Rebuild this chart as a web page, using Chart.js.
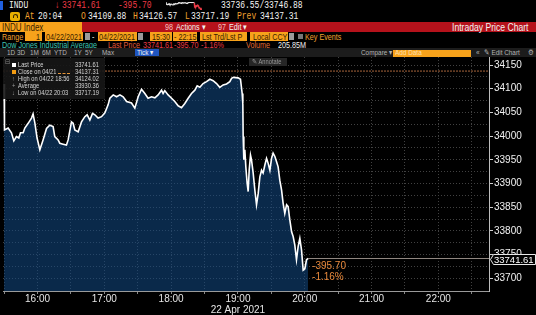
<!DOCTYPE html>
<html>
<head>
<meta charset="utf-8">
<script src="https://cdn.jsdelivr.net/npm/chart.js@4.4.1/dist/chart.umd.min.js"></script>
<style>
  body { margin: 0; background: #000; width: 536px; height: 315px; overflow: hidden; font-family: "Liberation Sans", Arial, sans-serif; }
  .a { position: absolute; white-space: nowrap; line-height: 1; }
  .m { font-family: "Liberation Mono", monospace; font-size: 10px; transform: scaleX(.8); transform-origin: 0 0; }
  .s { font-size: 9px; transform: scaleX(.8); transform-origin: 0 0; }
  .box { position: absolute; background: #f7a21b; }
  .bt { color: #3a1e00; }
  .or { color: #f0a030; }
  .red { color: #ec3a46; }
  .w { color: #f2f2f2; }
  .g { color: #b4b4b4; }
  #wrap { position: absolute; left: 0; top: 57px; width: 536px; height: 258px; }
  #leg { position: absolute; left: 3px; top: 1px; width: 102px; height: 41px; background: rgba(22,22,22,0.9); }
  .l { font-size: 6.5px; color: #d6d6d6; transform: scaleX(.88); transform-origin: 0 0; }
</style>
</head>
<body>
<!-- row 1 -->
<div class="a" style="left:0;top:1px;width:3px;height:9px;background:#2060e0"></div>
<span class="a m w" style="left:9px;top:1px">INDU</span>
<span class="a m red" style="left:55px;top:1px">↓</span>
<span class="a m red" style="left:62px;top:1px">33741.61</span>
<span class="a m red" style="left:118px;top:1px">-395.70</span>
<canvas id="spark" width="38" height="10" style="position:absolute;left:165px;top:1px;width:38px;height:10px"></canvas>
<span class="a m w" style="left:221px;top:1px">33736.55/33746.88</span>
<!-- row 2 -->
<div class="a" style="left:10px;top:12px;width:10px;height:9px;background:#e8b000;border-radius:2px"></div>
<div class="a" style="left:13px;top:14px;width:3px;height:3px;border:1px solid #3a2a00;border-radius:3px 3px 0 0;border-bottom:none"></div>
<span class="a m or" style="left:25px;top:12px">At</span>
<span class="a m w" style="left:38px;top:12px">20:04</span>
<span class="a m or" style="left:81px;top:12px">O</span>
<span class="a m w" style="left:88px;top:12px">34109.88</span>
<span class="a m or" style="left:133px;top:12px">H</span>
<span class="a m w" style="left:139px;top:12px">34126.57</span>
<span class="a m or" style="left:185px;top:12px">L</span>
<span class="a m w" style="left:191px;top:12px">33717.19</span>
<span class="a m or" style="left:237px;top:12px">Prev</span>
<span class="a m w" style="left:260px;top:12px">34137.31</span>
<!-- row 3 -->
<div class="box" style="left:0;top:22px;width:82px;height:10px"></div>
<div class="a" style="left:82px;top:22px;width:454px;height:10px;background:#b5121b"></div>
<span class="a s bt" style="left:2px;top:22.5px;font-size:10px">INDU Index</span>
<span class="a s" style="left:165px;top:23px;color:#f5c0c0">98</span>
<span class="a s w" style="left:176px;top:23px">Actions ▾</span>
<span class="a s" style="left:218px;top:23px;color:#f5c0c0">97</span>
<span class="a s w" style="left:229px;top:23px">Edit ▾</span>
<span class="a w" style="left:452px;top:22.5px;font-size:10px;transform:scaleX(.86);transform-origin:0 0">Intraday Price Chart</span>
<!-- row 4 -->
<span class="a s or" style="left:2px;top:32.5px">Range</span>
<div class="box" style="left:25px;top:32px;width:17px;height:9px"></div><span class="a s bt" style="left:36px;top:32.5px">1</span>
<div class="box" style="left:45px;top:32px;width:38px;height:9px"></div><span class="a s bt" style="left:46px;top:32.5px">04/22/2021</span>
<div class="a" style="left:85px;top:33px;width:5px;height:7px;background:#9a9a9a"></div>
<span class="a s w" style="left:92px;top:32.5px">-</span>
<div class="box" style="left:98px;top:32px;width:39px;height:9px"></div><span class="a s bt" style="left:99px;top:32.5px">04/22/2021</span>
<div class="a" style="left:138px;top:33px;width:5px;height:7px;background:#9a9a9a"></div>
<div class="box" style="left:150px;top:32px;width:22px;height:9px"></div><span class="a s bt" style="left:152px;top:32.5px">15:30</span>
<div class="box" style="left:173px;top:32px;width:24px;height:9px"></div><span class="a s bt" style="left:174px;top:32.5px">- 22:15</span>
<div class="box" style="left:200px;top:32px;width:47px;height:9px"></div><span class="a s bt" style="left:202px;top:32.5px">Lst Trd/Lst P</span>
<div class="box" style="left:250px;top:32px;width:38px;height:9px"></div><span class="a s bt" style="left:253px;top:32.5px">Local CCY</span>
<div class="a" style="left:289px;top:33px;width:5px;height:7px;background:#9a9a9a"></div>
<div class="a" style="left:298px;top:34px;width:5px;height:5px;background:#777"></div>
<span class="a s or" style="left:305px;top:32.5px">Key Events</span>
<!-- row 5 -->
<span class="a s" style="left:2px;top:41px;color:#3fc4b4">Dow Jones Industrial Average</span>
<span class="a s" style="left:108px;top:41px;color:#e2583a">Last Price</span>
<span class="a s red" style="left:143px;top:41px">33741.61</span>
<span class="a s red" style="left:174px;top:41px">-395.70</span>
<span class="a s red" style="left:201px;top:41px">-1.16%</span>
<span class="a s" style="left:246px;top:41px;color:#e2703a">Volume</span>
<span class="a s w" style="left:278px;top:41px">205.85M</span>
<!-- row 6 -->
<div class="a" style="left:0;top:48px;width:536px;height:9px;background:#1c1c1c"></div>
<span class="a s g" style="left:7px;top:49px;font-size:8px">1D</span>
<span class="a s g" style="left:17px;top:49px;font-size:8px">3D</span>
<span class="a s g" style="left:30px;top:49px;font-size:8px">1M</span>
<span class="a s g" style="left:42px;top:49px;font-size:8px">6M</span>
<span class="a s g" style="left:54px;top:49px;font-size:8px">YTD</span>
<span class="a s g" style="left:74px;top:49px;font-size:8px">1Y</span>
<span class="a s g" style="left:85px;top:49px;font-size:8px">5Y</span>
<span class="a s g" style="left:102px;top:49px;font-size:8px">Max</span>
<div class="a" style="left:135px;top:49px;width:24px;height:7px;background:#1f55c0"></div>
<span class="a s w" style="left:137px;top:49px;font-size:8px">Tick ▾</span>
<span class="a s g" style="left:361px;top:49px;font-size:8px">Compare ▾</span>
<div class="box" style="left:393px;top:49.5px;width:78px;height:7px"></div>
<span class="a s" style="left:395px;top:49px;font-size:8px;color:#fde0b0">Add Data</span>
<span class="a s g" style="left:476px;top:49px;font-size:8px">«</span>
<span class="a s g" style="left:484px;top:49px;font-size:8px">✎ Edit Chart</span>
<span class="a s g" style="left:528px;top:48.5px;font-size:8px">⚙</span>

<div id="wrap">
  <canvas id="chart" width="536" height="258"></canvas>
  <div id="leg">
    <span class="a l" style="left:2px;top:1px;color:#888">⊟</span>
    <div class="a" style="left:9px;top:5px;width:4px;height:4px;background:#fff"></div>
    <span class="a l" style="left:15px;top:4px">Last Price</span>
    <span class="a l" style="left:72px;top:4px">33741.61</span>
    <div class="a" style="left:9px;top:12px;width:4px;height:4px;background:#f39c12"></div>
    <span class="a l" style="left:15px;top:11px">Close on 04/21</span>
    <div class="a" style="left:55px;top:14.5px;width:12px;border-top:1px dashed #e8973a"></div>
    <span class="a l" style="left:72px;top:11px">34137.31</span>
    <span class="a l" style="left:9px;top:18px;color:#999">↑</span>
    <span class="a l" style="left:15px;top:18px">High on 04/22 18:56</span>
    <span class="a l" style="left:72px;top:18px">34124.02</span>
    <span class="a l" style="left:9px;top:25px;color:#999">+</span>
    <span class="a l" style="left:15px;top:25px">Average</span>
    <span class="a l" style="left:72px;top:25px">33930.36</span>
    <span class="a l" style="left:9px;top:32px;color:#999">↓</span>
    <span class="a l" style="left:15px;top:32px">Low on 04/22 20:03</span>
    <span class="a l" style="left:72px;top:32px">33717.19</span>
  </div>
  <div class="a" style="left:249px;top:1px;width:38px;height:8px;background:#262626"></div>
  <span class="a l" style="left:252px;top:2px;color:#9a9a9a">✎ Annotate</span>
</div>

<script>
// minutes since midnight, 22 Apr 2021
const times = [
  930, 930.1, 930.3, 930.6, 933.6, 936.6, 938.7, 941.1, 943.2, 944.7, 947.1, 948.6, 951.6, 954.6, 956, 957.6, 959.6,
  962.1, 965, 968.1, 971, 974, 975.5, 978.5, 980, 983, 986, 987.5, 990.5, 992, 993.5, 996.5, 999.5,
  1002.5, 1004.6, 1007, 1009.4, 1011.5, 1014.4, 1017.5, 1020.5, 1023.4, 1025, 1028, 1031, 1034, 1036.9, 1040,
  1044.4, 1047.4, 1050.4, 1053.4, 1056.4, 1059.3, 1062.4, 1065.4, 1068.3, 1071.4, 1072.8, 1074.3, 1077.3, 1080.4,
  1083.3, 1086.3, 1089.3, 1092.3, 1095.3, 1098.3, 1101.3, 1103.4, 1105.8, 1108.7, 1111.8, 1114.8, 1117.7, 1120.8,
  1123.7, 1126.7, 1129.8, 1132.7, 1134.3, 1136, 1140.2, 1142.3, 1143.8, 1144.4, 1144.7, 1145.3, 1146.2, 1147.1,
  1148.3, 1149.2, 1150.1, 1151.3, 1152.2, 1153.7, 1155.2, 1156.7, 1158.2, 1159.7, 1161.2, 1162.6, 1164.2, 1165.7,
  1167.1, 1168.7, 1170.2, 1171.6, 1173.2, 1174.7, 1176.1, 1177.6, 1179.2, 1180.6, 1182.1, 1183.7, 1185.1, 1186.6,
  1188.2, 1189.6, 1191.1, 1192.6, 1194.1, 1195.6, 1197.1, 1198.6, 1200.1, 1201.6, 1203
];
const prices = [
  34109.88, 34070, 34028, 34013, 34017, 34007, 33990, 33999, 33996, 34007, 34007, 34017, 34027, 34038, 34047, 34028, 33996,
  33971, 33992, 34016, 34023, 34020, 33999, 33992, 33985, 33983, 33981, 33992, 34030, 34027, 34013, 34009, 34030,
  34041, 34045, 34034, 34048, 34045, 34038, 34041, 34049, 34066, 34080, 34087, 34083, 34087, 34083, 34073,
  34070, 34059, 34083, 34099, 34090, 34080, 34083, 34081, 34087, 34097, 34090, 34096, 34087, 34080,
  34073, 34064, 34060, 34069, 34080, 34090, 34097, 34106, 34103, 34111, 34115, 34120, 34117, 34111,
  34103, 34108, 34110, 34115, 34122, 34124.02, 34123, 34120, 34090, 34069, 33999, 33950, 33971, 33935,
  33900, 33883, 33928, 33960, 33950, 33922, 33886, 33855, 33879, 33914, 33928, 33922, 33939, 33953,
  33943, 33928, 33953, 33964, 33957, 33946, 33935, 33907, 33886, 33858, 33837, 33855, 33851, 33823,
  33798, 33788, 33770, 33739, 33767, 33784, 33760, 33717.19, 33720, 33739, 33741.61
];
const prevClose = 34137.31;
const lastPrice = 33741.61;
const netChange = -395.70;
const pctChange = -1.16;
const xTickTimes = [930, 960, 990, 1020, 1050, 1080, 1110, 1140, 1170, 1200, 1230, 1260, 1290, 1320, 1350];
const yTickValues = [33700, 33725, 33750, 33775, 33800, 33825, 33850, 33875, 33900, 33925, 33950, 33975,
  34000, 34025, 34050, 34075, 34100, 34125, 34150];
const dateLabel = '22 Apr 2021';

const xMin = 929, xMax = 1365.5;
const FONT = "'Liberation Sans', Arial, sans-serif";
Chart.defaults.font.family = FONT;

function hhmm(m) {
  const h = Math.floor(m / 60), mm = Math.round(m % 60);
  return String(h).padStart(2, '0') + ':' + String(mm).padStart(2, '0');
}

const pricePoints = times.map((t, i) => ({ x: t, y: prices[i] }));
const lastTime = times[times.length - 1];

const lastPriceTag = {
  id: 'lastPriceTag',
  afterDraw(chart) {
    const { ctx, scales: { x, y }, chartArea } = chart;
    const py = Math.round(y.getPixelForValue(lastPrice)) + 0.5;
    const ax = chartArea.right;
    ctx.save();
    ctx.beginPath();
    ctx.moveTo(ax + 1.5, py);
    ctx.lineTo(ax + 4.5, py - 5);
    ctx.lineTo(535.5, py - 5);
    ctx.lineTo(535.5, py + 5);
    ctx.lineTo(ax + 4.5, py + 5);
    ctx.closePath();
    ctx.fillStyle = '#000';
    ctx.fill();
    ctx.strokeStyle = '#e8e8e8';
    ctx.lineWidth = 1;
    ctx.stroke();
    ctx.fillStyle = '#fff';
    ctx.font = '9.5px ' + FONT;
    ctx.textBaseline = 'middle';
    ctx.fillText(lastPrice.toFixed(2), ax + 5, py + 0.5);

    const ex = x.getPixelForValue(lastTime);
    ctx.fillStyle = '#e8893c';
    ctx.font = '10px ' + FONT;
    ctx.fillText(netChange.toFixed(2), ex + 4, py + 6.5);
    ctx.fillText(pctChange.toFixed(2) + '%', ex + 4, py + 18);
    ctx.restore();
  }
};

new Chart(document.getElementById('chart'), {
  type: 'line',
  data: {
    datasets: [
      {
        label: 'Last Price',
        data: pricePoints,
        borderColor: '#ffffff',
        borderWidth: 1.6,
        fill: 'start',
        backgroundColor: 'rgba(19,74,134,0.55)',
        pointRadius: 0,
        tension: 0
      },
      {
        label: 'Last',
        data: [{ x: lastTime, y: lastPrice }, { x: xMax, y: lastPrice }],
        borderColor: '#8f8680',
        borderWidth: 1,
        pointRadius: 0,
        fill: false
      },
      {
        label: 'Close on 04/21',
        data: [{ x: xMin, y: prevClose }, { x: xMax, y: prevClose }],
        borderColor: '#a8653c',
        borderWidth: 1,
        borderDash: [2, 1],
        pointRadius: 0,
        fill: false
      }
    ]
  },
  options: {
    responsive: false,
    animation: false,
    events: [],
    layout: { padding: { left: 3, top: 0, right: 0, bottom: 0 } },
    plugins: { legend: { display: false }, tooltip: { enabled: false } },
    scales: {
      x: {
        type: 'linear',
        min: xMin,
        max: xMax,
        afterBuildTicks: s => { s.ticks = xTickTimes.map(v => ({ value: v })); },
        afterFit: s => { s.height = 24; s.paddingLeft = 0; s.paddingRight = 0; },
        ticks: {
          autoSkip: false,
          maxRotation: 0,
          minRotation: 0,
          padding: 0,
          color: '#e6e6e6',
          font: { size: 10, lineHeight: 1.05 },
          callback: v => (v % 60 !== 0 ? '' : (v === 1140 ? [hhmm(v), dateLabel] : hhmm(v)))
        },
        grid: { color: '#414141', tickLength: 3, tickColor: '#888', tickBorderDash: [] },
        border: { color: '#9a9a9a', width: 1, dash: [1, 2] }
      },
      y: {
        position: 'right',
        min: 33673,
        max: 34167,
        afterBuildTicks: s => { s.ticks = yTickValues.map(v => ({ value: v })); },
        afterFit: s => { s.width = 47; s.paddingTop = 0; s.paddingBottom = 0; },
        ticks: {
          autoSkip: false,
          padding: 1,
          color: '#f0f0f0',
          font: { size: 10 },
          callback: v => (v % 50 === 0 ? String(v) : '')
        },
        grid: {
          color: '#414141',
          tickLength: 4,
          tickBorderDash: [],
          tickColor: c => (c.tick && c.tick.value % 50 === 0 ? '#cfcfcf' : 'rgba(0,0,0,0)')
        },
        border: { color: '#bdbdbd', width: 1, dash: [1, 2] }
      }
    }
  },
  plugins: [lastPriceTag]
});

// header sparkline, same price series
new Chart(document.getElementById('spark'), {
  type: 'line',
  data: {
    datasets: [{
      data: pricePoints,
      borderColor: '#e6e6e6',
      borderWidth: 1.2,
      pointRadius: 0,
      fill: false,
      segment: { borderColor: c => (c.p0.parsed.x >= 1143 ? '#ec3a46' : '#e6e6e6') }
    }]
  },
  options: {
    responsive: false,
    maintainAspectRatio: false,
    animation: false,
    events: [],
    layout: { padding: 1 },
    plugins: { legend: { display: false }, tooltip: { enabled: false } },
    scales: {
      x: { type: 'linear', display: false, min: times[0], max: lastTime },
      y: { display: false, min: 33700, max: 34130 }
    }
  }
});
</script>
</body>
</html>
